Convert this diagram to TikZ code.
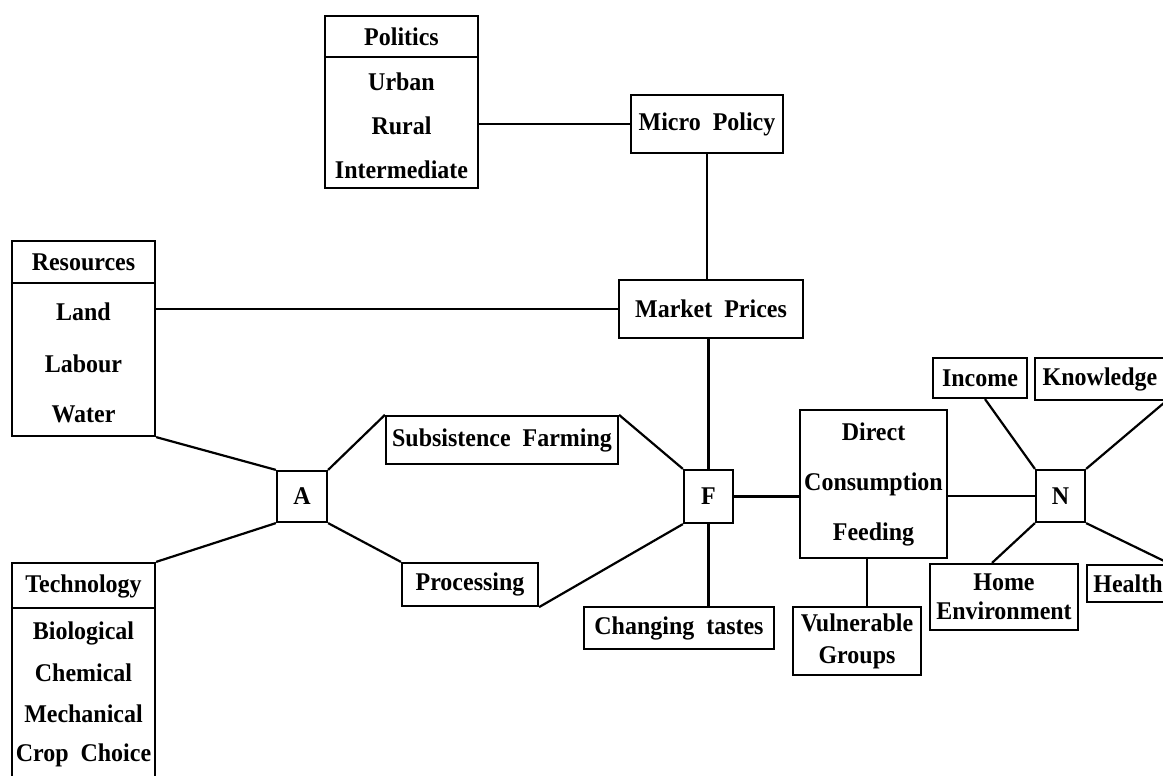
\documentclass[tikz,border=0pt]{standalone}
\usepackage{fontspec}
\setmainfont[FakeStretch=0.94]{Liberation Serif}
\begin{document}
\begin{tikzpicture}[x=1pt,y=-1pt,line width=2.2pt,
  box/.style={draw,rectangle,inner sep=0pt,align=center,
    font=\fontsize{25.5}{30}\selectfont\bfseries},
  lbl/.style={inner sep=0pt,anchor=center,
    font=\fontsize{25.5}{30}\selectfont\bfseries},
  link/.style={draw,line width=2.2pt}]
\useasboundingbox (0,0) rectangle (1163,776);
\clip (0,0) rectangle (1163,776);

% --- Politics box
\node[box,minimum width=153pt,minimum height=172pt] (pol) at (401.5,102) {};
\draw (pol.west |- 0,57) -- (pol.east |- 0,57);
\node[lbl] (polh) at (401.5,37) {Politics};
\node[lbl] (pol1) at (401.5,82) {Urban};
\node[lbl] (pol2) at (401.5,126) {Rural};
\node[lbl] (pol3) at (401.5,170) {Intermediate};

% --- Resources box
\node[box,minimum width=143pt,minimum height=195pt] (res) at (83.5,338.5) {};
\draw (res.west |- 0,283) -- (res.east |- 0,283);
\node[lbl] (resh) at (83.5,262) {Resources};
\node[lbl] (res1) at (83.5,312) {Land};
\node[lbl] (res2) at (83.5,364) {Labour};
\node[lbl] (res3) at (83.5,414) {Water};

% --- Technology box
\node[box,minimum width=143pt,minimum height=240pt] (tec) at (83.5,683) {};
\draw (tec.west |- 0,608) -- (tec.east |- 0,608);
\node[lbl] (tech) at (83.5,586) {Technology};
\node[lbl] (tec1) at (83.5,633) {Biological};
\node[lbl] (tec2) at (83.5,673) {Chemical};
\node[lbl] (tec3) at (83.5,714) {Mechanical};
\node[lbl] (tec4) at (83.5,755) {Crop\ \ Choice};

% --- single boxes
\node[box,minimum width=152pt,minimum height=58pt] (mic) at (707,124) {Micro\ \ Policy};
\node[box,minimum width=184pt,minimum height=58pt] (mkt) at (711,309) {Market\ \ Prices};
\node[box,minimum width=50pt,minimum height=51pt] (A) at (302,496.5) {A};
\node[box,minimum width=232pt,minimum height=48pt] (sf) at (502,440) {Subsistence\ \ Farming};
\node[box,minimum width=136pt,minimum height=43pt] (pro) at (470,584.5) {Processing};
\node[box,minimum width=49pt,minimum height=53pt] (F) at (708.5,496.5) {F};
\node[box,minimum width=190pt,minimum height=42pt] (ct) at (679,628) {Changing\ \ tastes};
\node[box,minimum width=147pt,minimum height=148pt,font=\fontsize{25.5}{50}\selectfont\bfseries] (dcf) at (873.5,484) {Direct\\Consumption\\Feeding};
\node[box,minimum width=128pt,minimum height=68pt,font=\fontsize{25.5}{32}\selectfont\bfseries] (vul) at (857,641) {Vulnerable\\Groups};
\node[box,minimum width=49pt,minimum height=52pt] (N) at (1060.5,496) {N};
\node[box,minimum width=94pt,minimum height=40pt] (inc) at (980,378) {Income};
\node[box,minimum width=130pt,minimum height=42pt] (kno) at (1100,379) {Knowledge};
\node[box,minimum width=148pt,minimum height=66pt,font=\fontsize{25.5}{29}\selectfont\bfseries] (home) at (1004,597) {Home\\Environment};
\node[box,minimum width=82pt,minimum height=37pt] (hea) at (1128,583.5) {Health};

% --- connectors
\path[link] (mic.west) -- (mic.west -| pol.east);
\path[link] (mic.south) -- (mic.south |- mkt.north);
\path[link] (mkt.west) -- (mkt.west -| res.east);
\path[link] (F.north) -- (F.north |- mkt.south);
\path[link] (res.south east) -- (A.north west);
\path[link] (tec.north east) -- (A.south west);
\path[link] (A.north east) -- (sf.north west);
\path[link] (A.south east) -- (pro.north west);
\path[link] (sf.north east) -- (F.north west);
\path[link] (pro.south east) -- (F.south west);
\path[link] (F.south) -- (F.south |- ct.north);
\path[link] (F.east) -- (F.east -| dcf.west);
\path[link] ([xshift=-6.5pt]dcf.south) -- ([xshift=-6.5pt]dcf.south |- vul.north);
\path[link] (N.west) -- (N.west -| dcf.east);
\path[link] ([xshift=5pt]inc.south) -- (N.north west);
\path[link] (kno.south east) -- (N.north east);
\path[link] ([xshift=-12pt]home.north) -- (N.south west);
\path[link] (hea.north east) -- (N.south east);
\end{tikzpicture}
\end{document}
